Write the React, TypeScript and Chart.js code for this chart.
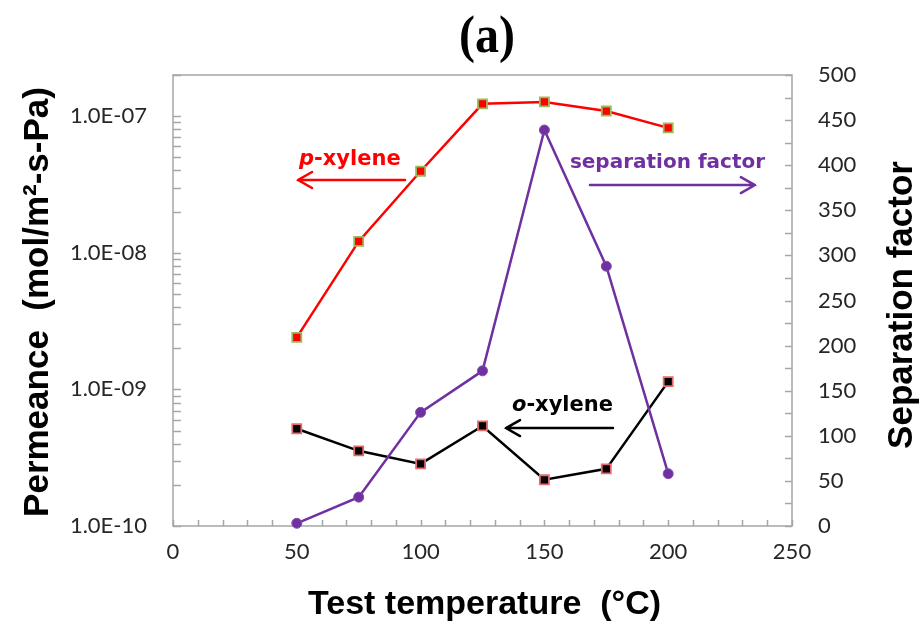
import React, { useEffect, useRef } from "react";
import { Chart, registerables } from "chart.js";

Chart.register(...registerables);

// ---- data ----
const temperatures = [50, 75, 100, 125, 150, 175, 200];
const pXylene = [2.4e-9, 1.21e-8, 3.95e-8, 1.23e-7, 1.27e-7, 1.09e-7, 8.2e-8];
const oXylene = [5.15e-10, 3.55e-10, 2.85e-10, 5.4e-10, 2.18e-10, 2.62e-10, 1.14e-9];
const separationFactor = [3, 32, 126, 172, 439, 288, 58];

const xTickLabels = [0, 50, 100, 150, 200, 250];
const permeanceTicks = [1e-10, 1e-9, 1e-8, 1e-7];
const separationTicks = [0, 50, 100, 150, 200, 250, 300, 350, 400, 450, 500];

const title = "(a)";
const xTitle = "Test temperature  (°C)";
const leftTitle = "Permeance  (mol/m²-s-Pa)";
const rightTitle = "Separation factor";

// annotation labels (positions in data units: x = temperature, y = separation-factor axis)
const annotations = [
  { parts: [{ t: "p", italic: true }, { t: "-xylene", italic: false }], color: "#ff0000", size: 21, x: 50.9, y: 400, arrowFrom: 93.7, arrowTo: 50.5, arrowY: 383.6 },
  { parts: [{ t: "separation factor", italic: false }], color: "#7030a0", size: 20, x: 160.3, y: 396.9, arrowFrom: 168.4, arrowTo: 235, arrowY: 378 },
  { parts: [{ t: "o", italic: true }, { t: "-xylene", italic: false }], color: "#000000", size: 21, x: 136.9, y: 127.5, arrowFrom: 177.7, arrowTo: 134.5, arrowY: 108.6 },
];

const W = 920;
const H = 627;
const PLOT_LEFT = 173;
const PLOT_RIGHT = 792;
const PLOT_TOP = 75;
const PLOT_BOTTOM = 526;

function formatSci(v: number): string {
  const exp = Math.round(Math.log10(v));
  const mant = (v / Math.pow(10, exp)).toFixed(1);
  return `${mant}E${exp < 0 ? "-" : "+"}${String(Math.abs(exp)).padStart(2, "0")}`;
}

const tickFont = { family: "Lato, 'Noto Sans', sans-serif", size: 22 };
const AXIS_GRAY = "#a6a6a6";

const decorPlugin = {
  id: "decor",
  beforeDatasetsDraw(chart: any) {
    const { ctx, chartArea: a, scales } = chart;
    ctx.save();
    ctx.strokeStyle = AXIS_GRAY;
    ctx.lineWidth = 1.5;
    ctx.strokeRect(a.left, a.top, a.right - a.left, a.bottom - a.top);
    ctx.beginPath();
    for (let v = 0; v <= 250; v += 10) {
      const px = Math.round(scales.x.getPixelForValue(v)) + 0.5;
      ctx.moveTo(px, a.bottom);
      ctx.lineTo(px, a.bottom - 6);
    }
    for (let d = -10; d <= -7; d++) {
      for (let m = 1; m <= 9; m++) {
        const v = m * Math.pow(10, d);
        if (v > 2.0001e-7) break;
        const py = Math.round(scales.y.getPixelForValue(v)) + 0.5;
        ctx.moveTo(a.left, py);
        ctx.lineTo(a.left + 8, py);
      }
    }
    for (let v = 0; v <= 500; v += 25) {
      const py = Math.round(scales.y2.getPixelForValue(v)) + 0.5;
      ctx.moveTo(a.right, py);
      ctx.lineTo(a.right - 7, py);
    }
    ctx.stroke();
    ctx.restore();
  },
  afterDraw(chart: any) {
    const { ctx, chartArea: a, scales } = chart;
    ctx.save();
    // title
    ctx.fillStyle = "#000";
    ctx.textAlign = "center";
    ctx.textBaseline = "alphabetic";
    ctx.save();
    ctx.translate(487, 52);
    ctx.scale(1, 1.12);
    ctx.font = "bold 48px 'Liberation Serif', 'DejaVu Serif', serif";
    ctx.fillText(title, 0, 0);
    ctx.restore();

    // axis titles
    ctx.font = "bold 34px 'Liberation Sans', Arial, sans-serif";
    ctx.fillText(xTitle, (a.left + a.right) / 2 + 2, 614);

    ctx.save();
    ctx.translate(48, 302);
    ctx.rotate(-Math.PI / 2);
    ctx.font = "bold 35px 'Liberation Sans', Arial, sans-serif";
    ctx.fillText(leftTitle, 0, 0);
    ctx.restore();

    ctx.save();
    ctx.translate(912, 305);
    ctx.rotate(-Math.PI / 2);
    ctx.font = "bold 35px 'Liberation Sans', Arial, sans-serif";
    ctx.fillText(rightTitle, 0, 0);
    ctx.restore();

    // annotations
    for (const an of annotations) {
      let px = scales.x.getPixelForValue(an.x);
      const py = scales.y2.getPixelForValue(an.y);
      ctx.fillStyle = an.color;
      ctx.textAlign = "left";
      for (const p of an.parts) {
        ctx.font = `${p.italic ? "italic " : ""}bold ${an.size}px 'DejaVu Sans', sans-serif`;
        ctx.fillText(p.t, px, py);
        px += ctx.measureText(p.t).width;
      }
      const x1 = scales.x.getPixelForValue(an.arrowFrom);
      const x2 = scales.x.getPixelForValue(an.arrowTo);
      const ay = scales.y2.getPixelForValue(an.arrowY);
      const dir = x2 > x1 ? 1 : -1;
      ctx.strokeStyle = an.color;
      ctx.lineWidth = 2.5;
      ctx.lineCap = "round";
      ctx.beginPath();
      ctx.moveTo(x1, ay);
      ctx.lineTo(x2, ay);
      ctx.moveTo(x2 - dir * 14, ay - 8);
      ctx.lineTo(x2, ay);
      ctx.lineTo(x2 - dir * 14, ay + 8);
      ctx.stroke();
    }
    ctx.restore();
  },
};

export default function App() {
  const canvasRef = useRef<HTMLCanvasElement | null>(null);

  useEffect(() => {
    document.body.style.margin = "0";
    const canvas = canvasRef.current;
    if (!canvas) return;
    const chart = new Chart(canvas, {
      type: "line",
      data: {
        datasets: [
          {
            label: "separation factor",
            data: temperatures.map((t, i) => ({ x: t, y: separationFactor[i] })),
            yAxisID: "y2",
            borderColor: "#7030a0",
            backgroundColor: "#7030a0",
            borderWidth: 2.5,
            pointStyle: "circle",
            pointRadius: 5,
            pointBorderWidth: 1,
            pointBorderColor: "#7f4fb0",
            pointBackgroundColor: "#7030a0",
            tension: 0,
            clip: false as any,
          },
          {
            label: "p-xylene",
            data: temperatures.map((t, i) => ({ x: t, y: pXylene[i] })),
            yAxisID: "y",
            borderColor: "#ff0000",
            borderWidth: 2.5,
            pointStyle: "rect",
            pointRadius: 6.4,
            pointBorderWidth: 1.8,
            pointBorderColor: "#9bbb59",
            pointBackgroundColor: "#ff0000",
            tension: 0,
            clip: false as any,
          },
          {
            label: "o-xylene",
            data: temperatures.map((t, i) => ({ x: t, y: oXylene[i] })),
            yAxisID: "y",
            borderColor: "#000000",
            borderWidth: 2.5,
            pointStyle: "rect",
            pointRadius: 6.4,
            pointBorderWidth: 1.8,
            pointBorderColor: "#e46c6c",
            pointBackgroundColor: "#000000",
            tension: 0,
            clip: false as any,
          },
        ],
      },
      options: {
        animation: false,
        responsive: false,
        events: [],
        layout: { padding: { top: PLOT_TOP, left: 0, right: 0, bottom: 0 } },
        plugins: {
          legend: { display: false },
          title: { display: false },
          tooltip: { enabled: false },
        },
        scales: {
          x: {
            type: "linear",
            min: 0,
            max: 250,
            grid: { display: false, drawTicks: false },
            border: { display: false },
            afterBuildTicks: (s: any) => {
              s.ticks = xTickLabels.map((v) => ({ value: v }));
            },
            ticks: { font: tickFont, color: "#262626", padding: 13, maxRotation: 0, autoSkip: false },
            afterFit: (s: any) => {
              s.height = H - PLOT_BOTTOM;
            },
          },
          y: {
            type: "logarithmic",
            position: "left",
            min: 1e-10,
            max: 2e-7,
            grid: { display: false, drawTicks: false },
            border: { display: false },
            afterBuildTicks: (s: any) => {
              s.ticks = permeanceTicks.map((v) => ({ value: v }));
            },
            ticks: {
              font: tickFont,
              color: "#262626",
              padding: 26,
              autoSkip: false,
              callback: (v: any) => formatSci(Number(v)),
            },
            afterFit: (s: any) => {
              s.width = PLOT_LEFT;
            },
          },
          y2: {
            type: "linear",
            position: "right",
            min: 0,
            max: 500,
            grid: { display: false, drawTicks: false },
            border: { display: false },
            afterBuildTicks: (s: any) => {
              s.ticks = separationTicks.map((v) => ({ value: v }));
            },
            ticks: { font: tickFont, color: "#262626", padding: 26, autoSkip: false },
            afterFit: (s: any) => {
              s.width = W - PLOT_RIGHT;
            },
          },
        },
      },
      plugins: [decorPlugin],
    });
    return () => chart.destroy();
  }, []);

  return (
    <div style={{ width: W, height: H, background: "#fff" }}>
      <canvas ref={canvasRef} width={W} height={H} />
    </div>
  );
}
